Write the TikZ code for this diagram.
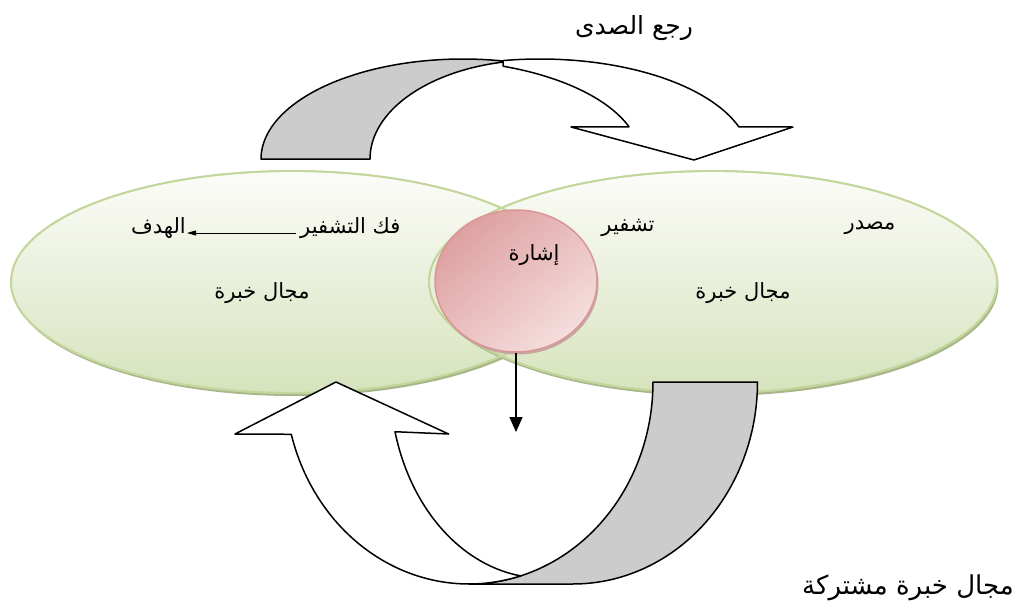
\documentclass[tikz,border=0pt]{standalone}
\usepackage{fontspec}
\usetikzlibrary{shapes.geometric,arrows.meta,shadows}
\newfontfamily\arfont[Script=Arabic]{DejaVu Sans}
\TeXXeTstate=1
\definecolor{gBorder}{RGB}{195,214,155}
\definecolor{gTop}{RGB}{252,252,249}
\definecolor{gBot}{RGB}{214,227,188}
\definecolor{gShadow}{RGB}{168,182,138}
\definecolor{pBorder}{RGB}{217,150,148}
\definecolor{pDark}{RGB}{222,160,160}
\definecolor{pLight}{RGB}{245,222,222}
\definecolor{pShadow}{RGB}{190,150,150}
\definecolor{bandGray}{RGB}{204,204,204}
\begin{document}
\begin{tikzpicture}[x=1pt,y=-1pt,
  field/.style={ellipse, draw=gBorder, line width=1.8pt, top color=gTop, bottom color=gBot,
    drop shadow={shadow xshift=1.5pt, shadow yshift=-3pt, fill=gShadow, opacity=1}, inner sep=0pt},
  fieldline/.style={draw=gBorder, line width=1.8pt},
  signal/.style={ellipse, draw=pBorder, line width=1.5pt, top color=pDark, bottom color=pLight, shading angle=40,
    drop shadow={shadow xshift=1.5pt, shadow yshift=-2.5pt, fill=pShadow, opacity=0.8}, inner sep=0pt},
  band/.style={draw=black, line width=1.5pt, line join=round},
  lbl/.style={font=\arfont\fontsize{21}{25}\selectfont, inner sep=0pt},
  big/.style={font=\arfont\fontsize{25}{30}\selectfont, inner sep=0pt},
  smallarrow/.style={draw=black, line width=0.8pt, -{Triangle[length=9pt,width=5pt]}},
  downarrow/.style={draw=black, line width=1.5pt, -{Triangle[length=15pt,width=13pt]}}
]
\useasboundingbox (0,0) rectangle (1034,613);
\fill[white] (0,0) rectangle (1034,613);

% fields of experience
\node[field, minimum width=562pt, minimum height=222pt] (L) at (292,282) {};
\node[field, minimum width=568pt, minimum height=222pt] (R) at (713,282) {};
\draw[fieldline] (L.center) ellipse [x radius=281pt, y radius=111pt];
\draw[fieldline] (R.center) ellipse [x radius=284pt, y radius=111pt];

% signal
\node[signal, minimum width=162pt, minimum height=142pt] (S) at (516,281) {};
\node[lbl] (sig) at (534,255) {\beginR إشارة\endR};
\coordinate (dEnd) at (516,432);
\draw[downarrow] (S.south) -- (dEnd);

% labels inside fields
\node[lbl] (src) at (870,228) {\beginR مصدر\endR};
\node[lbl] (enc) at (628,228) {\beginR تشفير\endR};
\node[lbl] (fR) at (743,293) {\beginR مجال خبرة\endR};
\node[lbl, anchor=west] (dec) at (300,228) {\beginR فك التشفير\endR};
\node[lbl, anchor=east] (tgt) at (186,228) {\beginR الهدف\endR};
\node[lbl] (fL) at (262,293) {\beginR مجال خبرة\endR};
\draw[smallarrow] ([xshift=-4pt,yshift=-5pt]dec.west) -- ([xshift=1pt,yshift=-5pt]tgt.east);

% titles
\node[big] (fb) at (634,28) {\beginR رجع الصدى\endR};
\node[big, font=\arfont\fontsize{26}{30}\selectfont] (shared) at (908,588) {\beginR مجال خبرة مشتركة\endR};

% top curved arrow (feedback)
\filldraw[band, fill=bandGray]
  plot[domain=180:78.6, samples=60, variable=\t] ({463+202*cos(\t)},{159-100*sin(\t)})
  -- plot[domain=101.7:180, samples=60, variable=\t] ({537+167*cos(\t)},{159-99*sin(\t)})
  -- cycle;
\filldraw[band, fill=white]
  plot[domain=100.1:18.7, samples=60, variable=\t] ({540+210*cos(\t)},{159-100*sin(\t)})
  -- (793,127) -- (694,160) -- (571,127)
  -- plot[domain=19:69.6, samples=60, variable=\t] ({429.5+211*cos(\t)},{159-99*sin(\t)})
  -- cycle;

% bottom curved arrow
\filldraw[band, fill=bandGray]
  plot[domain=0:-90, samples=60, variable=\t] ({573+184.5*cos(\t)},{382-202*sin(\t)})
  -- plot[domain=270:360, samples=60, variable=\t] ({469+184*cos(\t)},{382-202*sin(\t)})
  -- cycle;
\filldraw[band, fill=white]
  plot[domain=195:286.4, samples=60, variable=\t] ({469+184*cos(\t)},{382-202*sin(\t)})
  -- plot[domain=261.7:194.7, samples=60, variable=\t] ({543+153*cos(\t)},{382-196*sin(\t)})
  -- (448.6,434) -- (336,382) -- (235,434)
  -- cycle;
\end{tikzpicture}
\end{document}
